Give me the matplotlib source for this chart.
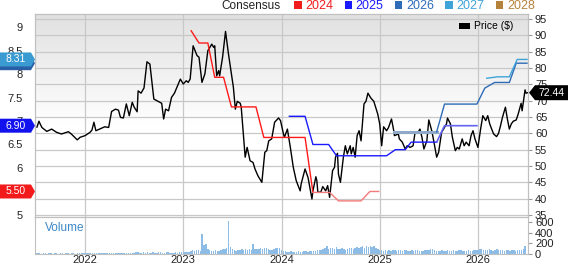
import matplotlib
matplotlib.use('Agg')
import matplotlib.pyplot as plt
import matplotlib.transforms as mtransforms
import numpy as np
from matplotlib.patches import Polygon, Patch
from matplotlib.colors import LinearSegmentedColormap

plt.rcParams['font.family'] = ['Liberation Sans', 'DejaVu Sans']

# ---- data ----
price_t = [2021.51, 2021.53, 2021.56, 2021.61, 2021.66, 2021.71, 2021.76, 2021.83, 2021.86, 2021.92,
           2021.95, 2022.00, 2022.05, 2022.07, 2022.09, 2022.11, 2022.17, 2022.20, 2022.24, 2022.27,
           2022.31, 2022.34, 2022.36, 2022.39, 2022.42, 2022.45, 2022.48, 2022.50, 2022.53, 2022.54,
           2022.57, 2022.60, 2022.63, 2022.66, 2022.70, 2022.76, 2022.78, 2022.80, 2022.82, 2022.85,
           2022.88, 2022.91, 2022.97, 2023.00, 2023.03, 2023.05, 2023.07, 2023.10, 2023.14, 2023.16,
           2023.19, 2023.22, 2023.25, 2023.29, 2023.31, 2023.32, 2023.34, 2023.36, 2023.37, 2023.40,
           2023.43, 2023.46, 2023.51, 2023.53, 2023.55, 2023.58, 2023.59, 2023.63, 2023.65, 2023.68,
           2023.71, 2023.73, 2023.76, 2023.80, 2023.83, 2023.85, 2023.87, 2023.90, 2023.93, 2023.97,
           2023.99, 2024.02, 2024.03, 2024.06, 2024.09, 2024.12, 2024.15, 2024.19, 2024.20, 2024.24,
           2024.27, 2024.31, 2024.32, 2024.35, 2024.36, 2024.37, 2024.40, 2024.42, 2024.45, 2024.47,
           2024.49, 2024.52, 2024.54, 2024.55, 2024.57, 2024.58, 2024.60, 2024.63, 2024.65, 2024.67,
           2024.70, 2024.71, 2024.73, 2024.75, 2024.77, 2024.79, 2024.81, 2024.84, 2024.86, 2024.88,
           2024.91, 2024.94, 2024.98, 2025.00, 2025.02, 2025.04, 2025.07, 2025.09, 2025.12, 2025.14,
           2025.15, 2025.19, 2025.20, 2025.23, 2025.26, 2025.28, 2025.31, 2025.34, 2025.36, 2025.39,
           2025.41, 2025.43, 2025.45, 2025.48, 2025.50, 2025.53, 2025.55, 2025.58, 2025.60, 2025.63,
           2025.65, 2025.68, 2025.69, 2025.72, 2025.74, 2025.77, 2025.79, 2025.81, 2025.84, 2025.86,
           2025.88, 2025.91, 2025.93, 2025.95, 2025.97, 2026.00, 2026.03, 2026.05, 2026.08, 2026.10,
           2026.12, 2026.14, 2026.16, 2026.19, 2026.21, 2026.23, 2026.25, 2026.28, 2026.30, 2026.32,
           2026.34, 2026.36, 2026.39, 2026.41, 2026.44, 2026.45, 2026.48, 2026.49, 2026.51]
price = [61.9, 63.7, 61.8, 60.6, 61.3, 60.3, 59.8, 60.5, 59.8, 58.0,
         58.8, 59.3, 60.3, 61.0, 63.4, 60.8, 61.6, 62.0, 61.8, 66.7,
         67.4, 67.1, 64.9, 64.7, 69.0, 65.4, 69.5, 68.0, 66.6, 73.0,
         72.3, 73.9, 81.9, 81.2, 70.5, 69.5, 69.2, 64.4, 67.4, 66.9,
         71.0, 72.3, 76.6, 75.1, 76.1, 75.6, 76.6, 86.8, 83.8, 83.3,
         75.6, 78.2, 85.3, 87.3, 86.3, 86.8, 77.6, 79.2, 77.6, 83.3,
         91.2, 84.3, 74.1, 67.4, 69.8, 69.2, 68.0, 52.7, 55.7, 51.6,
         51.1, 49.1, 47.0, 45.0, 54.2, 54.7, 57.7, 58.3, 63.4, 64.7,
         63.9, 59.8, 58.8, 61.3, 55.7, 49.6, 45.5, 42.4, 44.5, 49.1,
         46.5, 39.9, 42.4, 46.7, 45.5, 42.0, 42.0, 43.7, 42.4, 44.0,
         40.4, 48.6, 49.6, 52.7, 53.9, 47.5, 45.0, 52.7, 56.2, 53.7,
         56.2, 53.7, 55.7, 52.7, 59.3, 60.8, 57.7, 69.0, 69.8, 72.3,
         70.8, 69.8, 65.9, 62.9, 56.2, 62.0, 60.8, 61.8, 64.4, 61.3,
         59.3, 59.8, 58.3, 57.3, 55.2, 56.2, 55.7, 56.2, 60.3, 60.3,
         61.3, 58.8, 55.2, 57.7, 64.1, 60.8, 57.7, 52.7, 54.2, 60.3,
         61.3, 62.9, 64.7, 62.9, 58.8, 54.7, 55.7, 55.2, 58.3, 56.2,
         57.3, 56.2, 59.3, 60.8, 58.3, 55.7, 61.8, 65.4, 63.9, 65.4,
         62.9, 61.3, 59.8, 59.0, 60.0, 62.3, 64.9, 68.0, 64.4, 61.3,
         62.9, 63.7, 64.1, 65.9, 69.2, 66.9, 73.3, 72.3, 72.44]

# consensus EPS estimates (left axis)
c2024_t = [2023.08, 2023.16, 2023.25, 2023.32, 2023.41, 2023.49, 2023.74, 2023.82, 2024.24, 2024.32,
           2024.49, 2024.58, 2024.81, 2024.90, 2024.99]
c2024 = [8.92, 8.66, 8.66, 7.93, 7.93, 7.30, 7.30, 6.65, 6.65, 5.48, 5.48, 5.30, 5.30, 5.50, 5.50]
c2025_t = [2024.08, 2024.24, 2024.32, 2024.48, 2024.56, 2025.07, 2025.16, 2025.26, 2025.32, 2025.58,
           2025.66, 2025.99]
c2025 = [7.10, 7.10, 6.50, 6.50, 6.26, 6.26, 6.39, 6.39, 6.55, 6.55, 6.90, 6.90]
c2026_t = [2025.15, 2025.58, 2025.66, 2025.99, 2026.07, 2026.17, 2026.32, 2026.39, 2026.50]
c2026 = [6.77, 6.77, 7.36, 7.36, 7.70, 7.82, 7.82, 8.23, 8.23]
c2027_t = [2026.09, 2026.20, 2026.32, 2026.40, 2026.50]
c2027 = [7.91, 7.94, 7.94, 8.31, 8.31]

# weekly volume (thousands), starting mid 2021
volume = [12, 10, 15, 9, 11, 14, 8, 10, 12, 9, 13, 10, 8, 11, 15, 9, 10, 12, 8, 14, 10, 9, 11, 13, 10, 12,
          15, 11, 18, 12, 10, 14, 20, 13, 11, 16, 12, 18, 14, 10, 22, 15, 12, 17, 13, 19, 14, 11, 16, 24, 13, 18,
          22, 30, 35, 18, 25, 28, 20, 32, 26, 22, 30, 24, 19, 34, 28, 22, 26, 38, 30, 24, 20, 27, 33, 25, 29, 36,
          28, 35, 30, 42, 55, 70, 65, 80, 75, 60, 375, 170, 190, 85, 70, 60, 55, 75, 65, 60, 70, 85, 95, 110, 617, 130,
          100, 75, 65, 80, 70, 90, 75, 85, 70, 95, 80, 180, 90, 85, 100, 110, 95, 120, 105, 90, 80, 70, 85, 115, 120, 105,
          70, 55, 50, 45, 40, 48, 42, 38, 45, 50, 42, 40, 48, 55, 45, 50, 60, 55, 65, 70, 80, 75, 90, 110, 140, 95,
          120, 105, 90, 130, 85, 95, 110, 100, 80, 90, 105, 115, 95, 120, 130, 110, 135, 140, 120, 145, 130, 150, 125, 140, 110, 90,
          80, 70, 65, 75, 60, 70, 65, 80, 72, 60, 68, 75, 62, 70, 66, 58, 64, 72, 60, 68, 80, 65, 58, 62, 70, 66,
          75, 95, 85, 70, 62, 58, 65, 72, 60, 55, 68, 62, 58, 70, 64, 60, 66, 72, 58, 62, 55, 68, 60, 64, 70, 66,
          70, 85, 90, 75, 80, 68, 95, 72, 65, 78, 100, 70, 66, 74, 62, 70, 80, 64, 68, 72, 60, 75, 70, 82, 90, 150]
vol_t = 2021.5 + np.arange(len(volume)) / 52.0

years = [2022, 2023, 2024, 2025, 2026]
year_labels = ['2022', '2023', '2024', '2025', '2026']
legend_years = ['2024', '2025', '2026', '2027', '2028']
legend_colors = ['#f01c1c', '#1a1aff', '#2e6cb8', '#3ea3d8', '#b5823c']

grid_c = '#c8c8c8'
spine_c = '#c0c0c0'

fig = plt.figure(figsize=(5.68, 2.64), dpi=100)
L = 35 / 568
W = 493 / 568
ax = fig.add_axes([L, 1 - 217 / 264, W, 203 / 264])
axv = fig.add_axes([L, 1 - 254 / 264, W, 37 / 264])
ax2 = ax.twinx()

# background gradient
t = np.clip((np.linspace(0, 1, 200) - 0.45) / 0.55, 0, 1)
cmap = LinearSegmentedColormap.from_list('bg', ['#ffffff', '#e1e1e1'])
ax.imshow(t[:, None], extent=(0, 1, 0, 1), transform=ax.transAxes, cmap=cmap,
          aspect='auto', origin='lower', zorder=0, vmin=0, vmax=1)

# price
ax.plot(price_t, price, color='black', lw=1.0, zorder=3)
ax.set_xlim(2021.49, 2026.51)
ax.set_ylim(34.39, 96.53)
ax.yaxis.tick_right()
ax.set_yticks(range(35, 100, 5))
ax.set_xticks(years)
ax.grid(True, color=grid_c, lw=0.9)
ax.set_axisbelow(True)
ax.tick_params(axis='x', length=0, labelbottom=False)
ax.tick_params(axis='y', labelsize=8, length=3, color='#999999', pad=2, labelcolor='#222222')
ax.legend(handles=[Patch(facecolor='black', label='Price ($)')], loc='upper right',
          frameon=False, fontsize=7.5, handlelength=1.0, handleheight=0.5,
          handletextpad=0.4, borderaxespad=0.3, bbox_to_anchor=(0.985, 1.0))

# consensus lines
ax2.plot(c2024_t[:10], c2024[:10], color='#ff1a1a', lw=1.0)
ax2.plot(c2024_t[9:], c2024[9:], color='#f27a7a', lw=1.0)
ax2.plot(c2025_t[:10], c2025[:10], color='#1a1aff', lw=1.0)
ax2.plot(c2025_t[9:], c2025[9:], color='#6464f2', lw=1.2)
ax2.plot(c2026_t[:2], c2026[:2], color='#8fa9c8', lw=2.2)
ax2.plot(c2026_t[1:], c2026[1:], color='#2e6cb8', lw=1.0)
ax2.plot(c2027_t, c2027, color='#3ea3d8', lw=1.0)
ax2.set_ylim(4.957, 9.277)
ax2.set_yticks(np.arange(5, 9.01, 0.5))
ax2.yaxis.set_major_formatter(plt.FuncFormatter(lambda v, p: '%g' % v))
ax2.yaxis.tick_left()
ax2.tick_params(axis='y', labelsize=8, length=0, pad=9, labelcolor='#222222')

for a in (ax, ax2, axv):
    for s in a.spines.values():
        s.set_color(spine_c)


def left_tag(value, color, text):
    tr = mtransforms.blended_transform_factory(ax2.transAxes, ax2.transData)
    h = 7 / 47.0
    x0, x1 = -35 / 493, -4 / 493
    poly = Polygon([(x0, value - h), (x1, value - h), (0, value), (x1, value + h), (x0, value + h)],
                   closed=True, transform=tr, facecolor=color, edgecolor='none',
                   clip_on=False, zorder=5)
    ax2.add_patch(poly)
    if text:
        ax2.text(-19 / 493, value, text, transform=tr, ha='center', va='center',
                 color='white', fontsize=7.5, zorder=6, clip_on=False)


left_tag(c2026[-1], '#2a5fa6', '')
left_tag(c2027[-1], '#3a9bd2', '%.2f' % c2027[-1])
left_tag(c2025[-1], '#1212ee', '%.2f' % c2025[-1])
left_tag(c2024[-1], '#f21a1a', '%.2f' % c2024[-1])

# right price tag
tr = mtransforms.blended_transform_factory(ax.transAxes, ax.transData)
h = 7.5 * 60 / 196
p_last = price[-1]
xa, xb, xc = 1 + 1 / 493, 1 + 7 / 493, 1 + 40 / 493
ax.add_patch(Polygon([(xa, p_last), (xb, p_last - h), (xc, p_last - h), (xc, p_last + h), (xb, p_last + h)],
                     closed=True, transform=tr, facecolor='black', edgecolor='none',
                     clip_on=False, zorder=5))
ax.text(1 + 23 / 493, p_last, '%.2f' % p_last, transform=tr, ha='center', va='center',
        color='white', fontsize=7.5, zorder=6, clip_on=False)

# volume panel
axv.bar(vol_t, volume, width=0.75 / 52, color='#8dbde6', align='center', zorder=2)
axv.set_xlim(2021.49, 2026.51)
axv.set_ylim(0, 690)
axv.yaxis.tick_right()
axv.set_yticks([0, 200, 400, 600])
axv.set_xticks(years)
axv.set_xticklabels(year_labels)
axv.grid(True, axis='x', color=grid_c, lw=0.9)
axv.set_axisbelow(True)
axv.tick_params(axis='x', length=0, labelsize=8, pad=1, labelcolor='#222222')
axv.tick_params(axis='y', labelsize=8, length=3, color='#999999', pad=2, labelcolor='#222222')
axv.text(0.02, 0.70, 'Volume', transform=axv.transAxes, color='#3a87c8', fontsize=8.5,
         va='center', ha='left')

# top legend
fig.text(280 / 568, 1 - 6 / 264, 'Consensus', ha='right', va='center', fontsize=8.5, color='#222222')
fig.legend(handles=[Patch(facecolor=c, label=y) for c, y in zip(legend_colors, legend_years)],
           loc='center left', bbox_to_anchor=(294 / 568, 1 - 6 / 264), ncol=5, frameon=False,
           fontsize=9, handlelength=0.6, handleheight=0.6, handletextpad=0.3, columnspacing=0.9,
           labelcolor=legend_colors, borderpad=0, borderaxespad=0)

fig.savefig('out.png', dpi=100)
